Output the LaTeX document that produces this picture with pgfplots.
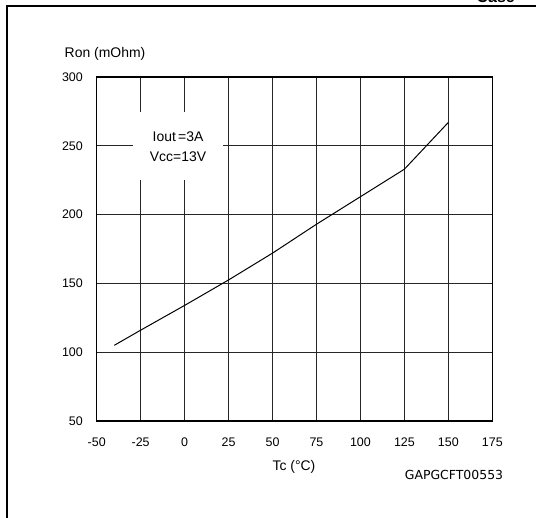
\documentclass[border=0pt]{standalone}
\usepackage{pgfplots}
\pgfplotsset{compat=1.18}
\usepackage{fontspec}
\setmainfont{Liberation Sans}
\newfontfamily\codefont{DejaVu Sans}

\begin{document}
\begin{tikzpicture}[x=1bp,y=1bp]
\useasboundingbox (0,0) rectangle (536,518);
% figure frame (only left and top edges visible)
\draw[line width=2bp] (7,0) -- (7,512.3) -- (536,512.3);
\node[anchor=base east, font=\fontsize{16}{18}\selectfont\bfseries, inner sep=0] at (515,515.5) {Case};

\begin{axis}[
    at={(96.7bp,97bp)}, anchor=south west,
    scale only axis, width=395.6bp, height=344bp,
    xmin=-50, xmax=175, ymin=50, ymax=300,
    xtick={-50,-25,0,25,50,75,100,125,150,175},
    xticklabels={-50,-25,0,25,50,75,100,125,150,175},
    ytick={50,100,150,200,250,300},
    yticklabels={50,100,150,200,250,300},
    grid=major,
    major grid style={black!85, line width=0.7bp},
    major tick length=0,
    axis line style={black, line width=1.3bp},
    ticklabel style={font=\fontsize{12.5}{14}\selectfont, inner sep=0},
    xticklabel style={anchor=center, yshift=-21.7bp},
    yticklabel style={anchor=east, xshift=-13.7bp},
  ]
  \addplot[black, line width=1bp] coordinates {
    (-40,105) (-25,116) (0,134) (25,152.5) (50,172)
    (75,193) (100,213) (125,233) (150,267)
  };
  \fill[white] (axis cs:-29.4,225.1) rectangle (axis cs:21.8,274.6);
  \node[font=\fontsize{14}{16}\selectfont] at (axis cs:-3.75,256.4) {Iout\,=3A};
  \node[font=\fontsize{14}{16}\selectfont] at (axis cs:-3.75,241.9) {Vcc=13V};
\end{axis}

\node[font=\fontsize{14}{16}\selectfont] at (105,464) {Ron (mOhm)};
\node[font=\fontsize{14}{16}\selectfont] at (294,51) {Tc (°C)};
\node[font=\codefont\fontsize{12.5}{14}\selectfont] at (454,43) {GAPGCFT00553};
\end{tikzpicture}
\end{document}
